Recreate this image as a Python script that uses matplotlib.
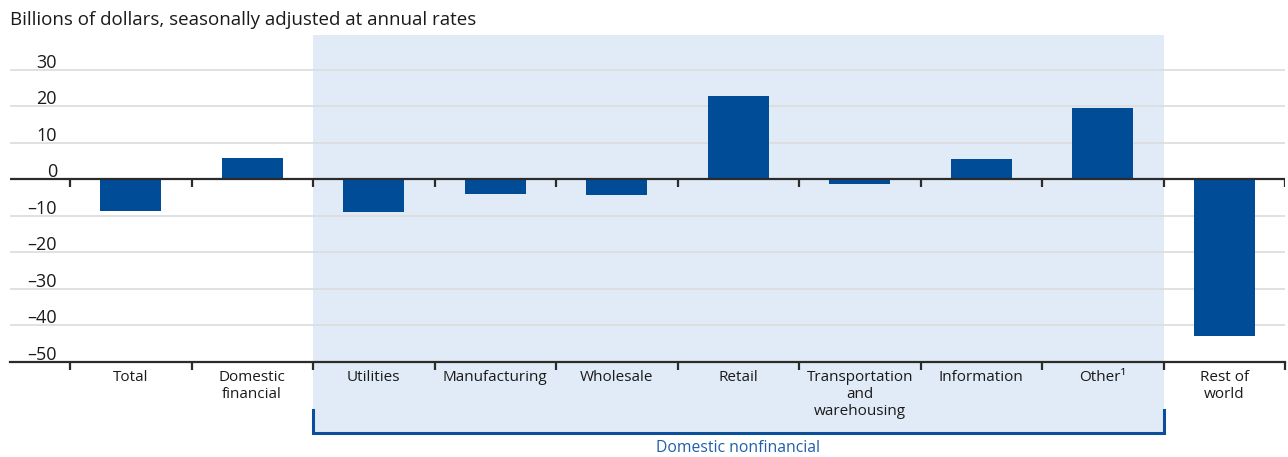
import matplotlib
matplotlib.use("Agg")
import matplotlib.pyplot as plt
from matplotlib.patches import Rectangle
from matplotlib.transforms import blended_transform_factory
from matplotlib.lines import Line2D

plt.rcParams['font.family'] = ['Open Sans', 'DejaVu Sans']

categories = ["Total", "Domestic\nfinancial", "Utilities", "Manufacturing",
              "Wholesale", "Retail", "Transportation\nand\nwarehousing",
              "Information", "Other\u00b9", "Rest of\nworld"]
values = [-8.7, 5.8, -9.1, -4.1, -4.4, 22.9, -1.4, 5.5, 19.6, -43.0]
y_ticks = [30, 20, 10, 0, -10, -20, -30, -40, -50]
group_label = "Domestic nonfinancial"
group_span = (2, 8)   # first and last category index in the group
title = "Billions of dollars, seasonally adjusted at annual rates"

BAR = "#004C97"
SHADE = "#E1EBF7"
GRID = "#DCDCDC"
AXIS = "#2B2B2B"
TEXT = "#1A1A1A"

W, H = 1288, 457
fig = plt.figure(figsize=(W / 100, H / 100), dpi=100)
left_px, right_px, top_px, bottom_px = 10, 1285, 33.5, 361.6
ax = fig.add_axes([left_px / W, (H - bottom_px) / H,
                   (right_px - left_px) / W, (bottom_px - top_px) / H])

step_px = (right_px - 70) / 10
x_left = -0.5 - (70 - left_px) / step_px
ax.set_xlim(x_left, len(categories) - 0.5)
ax.set_ylim(-50, 40)
px_per_unit_y = (bottom_px - top_px) / 90.0

for s in ["top", "right", "left"]:
    ax.spines[s].set_visible(False)
ax.spines["bottom"].set_color(AXIS)
ax.spines["bottom"].set_linewidth(1.6)
ax.set_yticks([])

# shaded group background, extending down to the bracket
trans = blended_transform_factory(ax.transData, ax.transAxes)
shade_top = (bottom_px - 35) / (bottom_px - top_px)
bracket_y = -(433 - bottom_px) / (bottom_px - top_px)
bracket_top = -(410 - bottom_px) / (bottom_px - top_px)
g0, g1 = group_span[0] - 0.5, group_span[1] + 0.5
ax.add_patch(Rectangle((g0, bracket_y), g1 - g0, shade_top - bracket_y,
                       transform=trans, facecolor=SHADE, edgecolor="none",
                       zorder=0, clip_on=False))
ax.add_line(Line2D([g0, g0, g1, g1], [bracket_top, bracket_y, bracket_y, bracket_top],
                   transform=trans, color="#0B4F9C", lw=2.2, clip_on=False,
                   solid_joinstyle="miter", zorder=2))
ax.text((g0 + g1) / 2, -(447.5 - bottom_px) / (bottom_px - top_px), group_label,
        transform=trans, ha="center", va="center", fontsize=11.3,
        color="#1F5FAA")

# gridlines and y labels
for v in y_ticks:
    if v == -50:
        pass
    elif v == 0:
        ax.axhline(0, color=AXIS, lw=1.6, zorder=4)
    else:
        ax.axhline(v, color=GRID, lw=1.2, zorder=1)
    ax.text(-0.5 - 13 / step_px, v + 2 / px_per_unit_y,
            f"{v}".replace("-", "\u2013"), ha="right", va="baseline",
            fontsize=13, color=TEXT, zorder=5)

# bars
xs = list(range(len(categories)))
ax.bar(xs, values, width=0.5, color=BAR, zorder=3)

# category boundary ticks on the bottom axis and on the zero line
bounds = [i - 0.5 for i in range(len(categories) + 1)]
ax.set_xticks(bounds)
ax.set_xticklabels([""] * len(bounds))
ax.tick_params(axis="x", which="major", length=6, width=1.6, color=AXIS)
ax.vlines(bounds, 0, -8 / px_per_unit_y, color=AXIS, lw=1.6, zorder=4)
ax.set_xticks(xs, categories, minor=True)
ax.tick_params(axis="x", which="minor", length=0, pad=6, labelsize=11,
               labelcolor=TEXT)
for lab in ax.get_xticklabels(minor=True):
    lab.set_linespacing(1.18)

fig.text(left_px / W, 1 - 25 / H, title, ha="left", va="baseline",
         fontsize=13.5, color=TEXT)

fig.savefig("out.png", dpi=100)
